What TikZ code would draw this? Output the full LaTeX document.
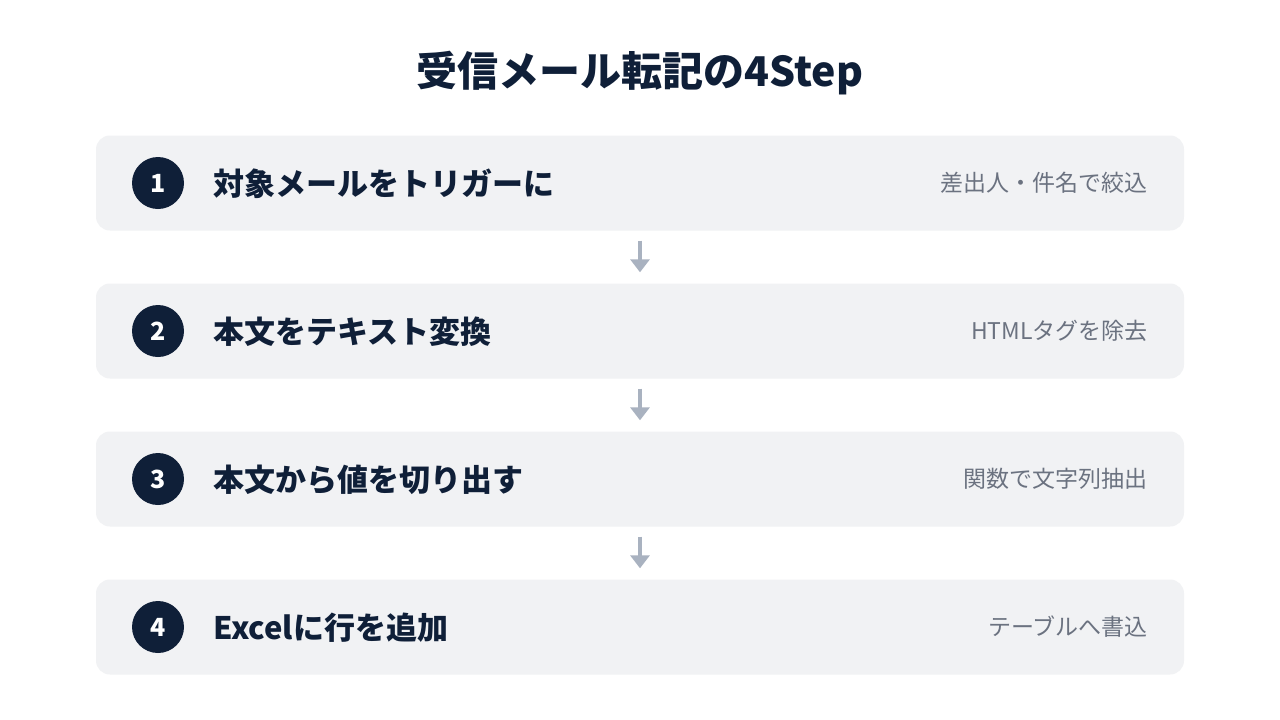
\documentclass[tikz,border=0pt]{standalone}
\usepackage{fontspec}
\setmainfont{Noto Sans CJK JP}[BoldFont={Noto Sans CJK JP Bold}]
\newfontfamily\heavyfont{Noto Sans CJK JP Black}
\usetikzlibrary{arrows.meta}
\definecolor{navy}{HTML}{0F1F38}
\definecolor{boxfill}{HTML}{F1F2F4}
\definecolor{subgray}{HTML}{6B7280}
\definecolor{arrowgray}{HTML}{A9B2C0}
\tikzset{
  stepbox/.style={fill=boxfill, rounded corners=14pt, minimum width=1088pt, minimum height=95pt, inner sep=0pt},
  numcirc/.style={circle, fill=navy, minimum size=52pt, inner sep=0pt, text=white, font=\heavyfont\fontsize{25pt}{27pt}\selectfont},
  maintext/.style={anchor=west, text=navy, inner sep=0pt, font=\heavyfont\fontsize{31pt}{35pt}\selectfont},
  subtext/.style={anchor=east, text=subgray, inner sep=0pt, font=\fontsize{23pt}{27pt}\selectfont},
  flowarrow/.style={draw=arrowgray, line width=4pt, -{Triangle[length=13pt,width=19pt]}}
}
\begin{document}
\begin{tikzpicture}[x=1pt,y=-1pt]
\useasboundingbox (0,0) rectangle (1280,720);
\fill[white] (0,0) rectangle (1280,720);
\node[text=navy, font=\heavyfont\fontsize{41pt}{45pt}\selectfont] (title) at (640,73) {受信メール転記の4Step};
\foreach \i/\y/\m/\s in {1/183/対象メールをトリガーに/差出人・件名で絞込,
                         2/331/本文をテキスト変換/HTMLタグを除去,
                         3/479/本文から値を切り出す/関数で文字列抽出,
                         4/627/Excelに行を追加/テーブルへ書込}{
  \node[stepbox] (box\i) at (640,\y) {};
  \node[numcirc] (num\i) at (158,\y) {\i};
  \node[maintext] (main\i) at (213,\y+1) {\m};
  \node[subtext] (sub\i) at (1148,\y) {\s};
}
\foreach \a/\b in {1/2,2/3,3/4}{
  \draw[flowarrow] ([yshift=-10pt]box\a.south) -- ([yshift=11pt]box\b.north);
}
\end{tikzpicture}
\end{document}
